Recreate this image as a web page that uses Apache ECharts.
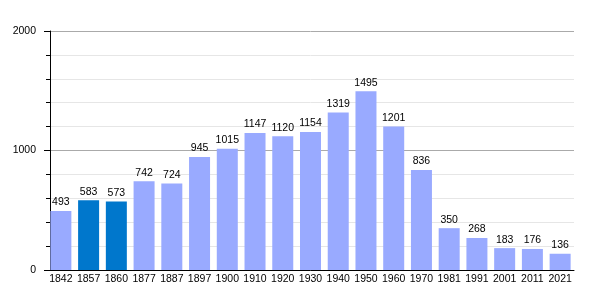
<!DOCTYPE html>
<html><head><meta charset="utf-8">
<script src="https://cdn.jsdelivr.net/npm/echarts@6/dist/echarts.min.js"></script>
<style>html,body{margin:0;padding:0;background:#fff}#c{width:600px;height:300px}</style>
</head><body><div id="c"></div>
<script>
const years = ['1842','1857','1860','1877','1887','1897','1900','1910','1920','1930','1940','1950','1960','1970','1981','1991','2001','2011','2021'];
const population = [493,583,573,742,724,945,1015,1147,1120,1154,1319,1495,1201,836,350,268,183,176,136];
const highlighted = ['1857','1860'];
const yTicks = [0,1000,2000];
const light = '#99aaff', dark = '#0077cc';
const font = 'Liberation Sans, Arial, sans-serif';
const chart = echarts.init(document.getElementById('c'), null, {renderer:'canvas'});
chart.setOption({
  animation:false,
  grid:{left:47,right:26,top:31,bottom:30},
  xAxis:{type:'category',data:years,
    axisLine:{lineStyle:{color:'#000',width:1}},
    axisTick:{show:false},
    axisLabel:{color:'#000',fontSize:10.5,fontFamily:font,margin:4,interval:0}},
  yAxis:{type:'value',min:yTicks[0],max:yTicks[yTicks.length-1],interval:1000,offset:-3,
    axisLine:{show:true,lineStyle:{color:'#000',width:1}},
    axisTick:{show:true,length:6,lineStyle:{color:'#000'}},
    minorTick:{show:true,splitNumber:5,length:4,lineStyle:{color:'#000'}},
    splitLine:{show:true,lineStyle:{color:'#aaaaaa',width:1}},
    minorSplitLine:{show:true,lineStyle:{color:'#e6e6e6',width:1}},
    axisLabel:{color:'#000',fontSize:10.5,fontFamily:font,margin:14,formatter:v=>String(v)}},
  series:[{type:'bar',barWidth:21,
    data:population.map((v,i)=>({value:v,itemStyle:{color:highlighted.includes(years[i])?dark:light}})),
    label:{show:true,position:'top',color:'#000',fontSize:10.5,fontFamily:font,distance:3}}]
});
</script></body></html>
